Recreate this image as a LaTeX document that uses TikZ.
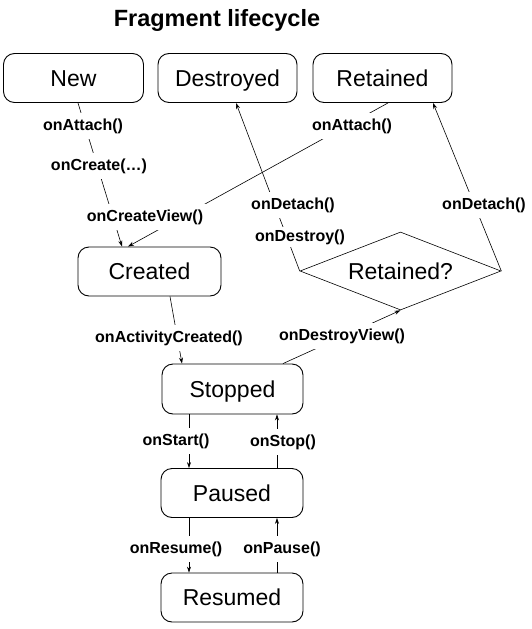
\documentclass[tikz,border=0pt]{standalone}
\usepackage{fontspec}
\setmainfont{Liberation Sans}
\usetikzlibrary{shapes.geometric,arrows.meta}
\begin{document}
\begin{tikzpicture}[x=1pt,y=-1pt,
  state/.style={draw=black,line width=0.9pt,rounded corners=11pt,minimum height=49pt,inner sep=0pt,text height=16.5pt,text depth=0pt,font=\fontsize{23}{26}\selectfont},
  lbl/.style={fill=white,inner xsep=3pt,inner ysep=6pt,font=\bfseries\fontsize{16}{18}\selectfont},
  conn/.style={draw=black,line width=0.6pt},
  arr/.style={conn,-{Stealth[length=6pt,width=4pt]}}]
\useasboundingbox (0,0) rectangle (532,629);
\node[font=\bfseries\fontsize{23.5}{26}\selectfont] (title) at (217,20) {Fragment lifecycle};
\node[state,minimum width=140pt] (New) at (73.5,78) {New};
\node[state,minimum width=139pt] (Destroyed) at (227.5,78) {Destroyed};
\node[state,minimum width=139pt] (Retained) at (382.5,78) {Retained};
\node[state,minimum width=143pt] (Created) at (149.5,271.5) {Created};
\node[state,minimum width=141pt,minimum height=50pt] (Stopped) at (232.5,389) {Stopped};
\node[state,minimum width=142pt] (Paused) at (232,493) {Paused};
\node[state,minimum width=142pt] (Resumed) at (232,597.5) {Resumed};
\node[diamond,draw=black,line width=0.6pt,minimum width=201pt,minimum height=78pt,aspect=2.577,inner sep=0pt,text height=16.5pt,text depth=0pt,font=\fontsize{23}{26}\selectfont] (Ret) at (400.5,271) {Retained?};
% connectors
\draw[arr] ([xshift=4.5pt]New.south) -- ([xshift=-27.5pt]Created.north);
\draw[arr] ([xshift=5.5pt]Retained.south) -- ([xshift=-21.5pt]Created.north);
\draw[arr] ([xshift=20.5pt]Created.south) -- ([xshift=-50.5pt]Stopped.north);
\draw[arr] ([xshift=50.5pt]Stopped.north) -- (Ret.south);
\draw[arr] (Ret.west) -- ([xshift=8.5pt]Destroyed.south);
\draw[arr] (Ret.east) -- ([xshift=50.5pt]Retained.south);
\draw[arr] ([xshift=-43.5pt]Stopped.south) -- ([xshift=-43pt]Paused.north);
\draw[arr] ([xshift=45pt]Paused.north) -- ([xshift=44.5pt]Stopped.south);
\draw[arr] ([xshift=-43pt]Paused.south) -- ([xshift=-43pt]Resumed.north);
\draw[arr] ([xshift=45pt]Resumed.north) -- ([xshift=45pt]Paused.south);
% labels
\node[lbl] (l1) at (83,126) {onAttach()};
\node[lbl] (l2) at (99,166) {onCreate(…)};
\node[lbl] (l3) at (145,217) {onCreateView()};
\node[lbl] (l4) at (352,126) {onAttach()};
\node[lbl] (l5) at (293,205) {onDetach()};
\node[lbl,inner ysep=3pt] (l6) at (300,237) {onDestroy()};
\node[lbl] (l7) at (484,205) {onDetach()};
\node[lbl] (l8) at (169,338) {onActivityCreated()};
\node[lbl] (l9) at (342,336) {onDestroyView()};
\node[lbl] (l10) at (176,441) {onStart()};
\node[lbl] (l11) at (283,442) {onStop()};
\node[lbl] (l12) at (176,549) {onResume()};
\node[lbl] (l13) at (282,549) {onPause()};
\end{tikzpicture}
\end{document}
